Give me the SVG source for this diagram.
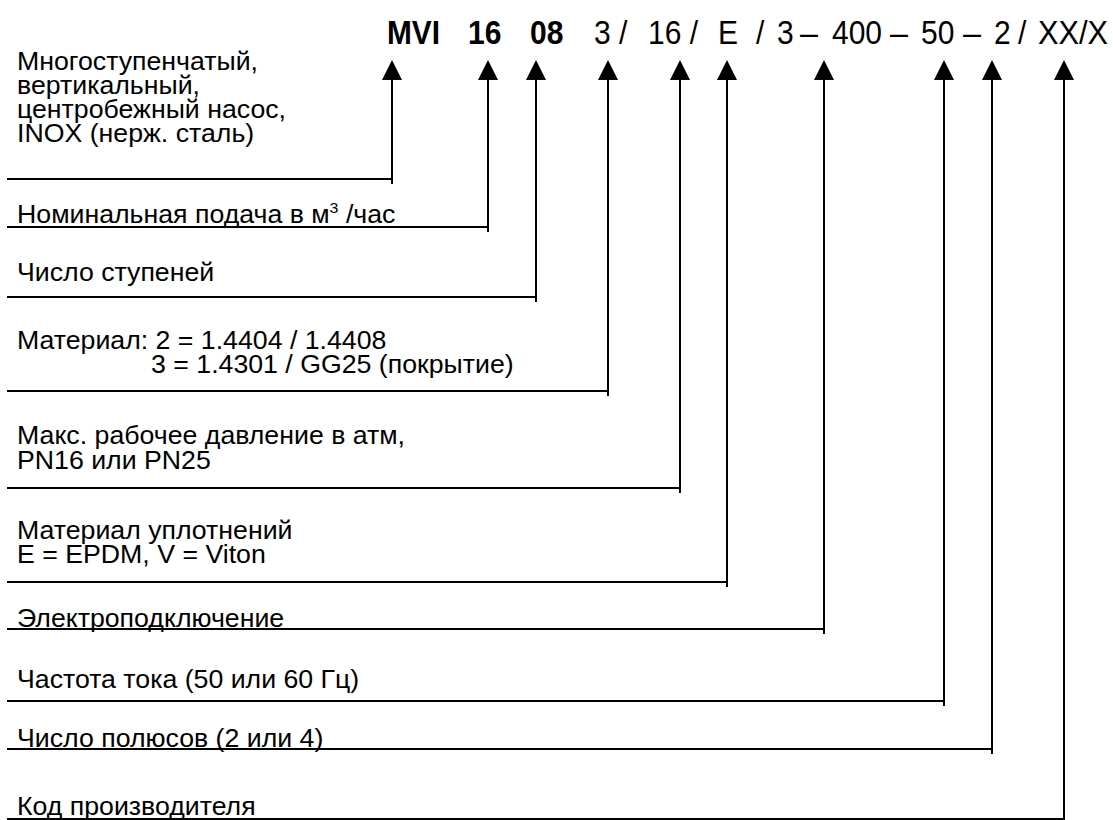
<svg xmlns="http://www.w3.org/2000/svg" width="1113" height="820" viewBox="0 0 1113 820">
<style>
  .lbl { font-family: "Liberation Sans", Arial, sans-serif; font-size: 25px; fill: #000; }
  .hd { font-family: "Liberation Sans", Arial, sans-serif; font-size: 33px; fill: #000; }
  .b { font-weight: bold; }
  .con { fill: none; stroke: #000; stroke-width: 2; marker-end: url(#arr); }
</style>
<defs>
  <marker id="arr" markerUnits="userSpaceOnUse" markerWidth="22" markerHeight="22" refX="0" refY="10" orient="auto" overflow="visible">
    <path d="M0,0 L20,10 L0,20 z" fill="#000"/>
  </marker>
</defs>
<rect width="1113" height="820" fill="#fff"/>

<g id="header">
  <text class="hd b" x="387" y="44" textLength="53" lengthAdjust="spacingAndGlyphs">MVI</text>
  <text class="hd b" x="468" y="44" textLength="33.4" lengthAdjust="spacingAndGlyphs">16</text>
  <text class="hd b" x="530" y="44" textLength="33.4" lengthAdjust="spacingAndGlyphs">08</text>
  <text class="hd" x="594" y="44" textLength="33.4" lengthAdjust="spacingAndGlyphs">3 /</text>
  <text class="hd" x="648" y="44" textLength="50" lengthAdjust="spacingAndGlyphs">16 /</text>
  <text class="hd" x="718" y="44" textLength="20" lengthAdjust="spacingAndGlyphs">E</text>
  <text class="hd" x="756" y="44" textLength="8.3" lengthAdjust="spacingAndGlyphs">/</text>
  <text class="hd" x="777" y="44" textLength="16.7" lengthAdjust="spacingAndGlyphs">3</text>
  <text class="hd" x="800" y="44" textLength="18" lengthAdjust="spacingAndGlyphs">–</text>
  <text class="hd" x="832" y="44" textLength="50" lengthAdjust="spacingAndGlyphs">400</text>
  <text class="hd" x="890" y="44" textLength="18" lengthAdjust="spacingAndGlyphs">–</text>
  <text class="hd" x="921" y="44" textLength="33.4" lengthAdjust="spacingAndGlyphs">50</text>
  <text class="hd" x="963" y="44" textLength="18" lengthAdjust="spacingAndGlyphs">–</text>
  <text class="hd" x="994" y="44" textLength="16.7" lengthAdjust="spacingAndGlyphs">2</text>
  <text class="hd" x="1018" y="44" textLength="8.3" lengthAdjust="spacingAndGlyphs">/</text>
  <text class="hd" x="1038" y="44" textLength="70" lengthAdjust="spacingAndGlyphs">XX/X</text>
</g>

<g id="connectors">
  <path class="con" d="M7,179 H392 M392,184 V80"/>
  <path class="con" d="M7,227 H488 M488,232 V80"/>
  <path class="con" d="M7,297 H536 M536,302 V80"/>
  <path class="con" d="M7,391 H608 M608,396 V80"/>
  <path class="con" d="M7,488 H680 M680,493 V80"/>
  <path class="con" d="M7,582 H727 M727,587 V80"/>
  <path class="con" d="M7,629 H824 M824,634 V80"/>
  <path class="con" d="M7,701 H944 M944,706 V80"/>
  <path class="con" d="M7,749 H992 M992,754 V80"/>
  <path class="con" d="M7,819 H1064 M1064,824 V80"/>
</g>

<g id="n1" transform="translate(17,0) scale(1.068,1)">
  <text class="lbl" x="0" y="70">Многоступенчатый,</text>
  <text class="lbl" x="0" y="94">вертикальный,</text>
  <text class="lbl" x="0" y="118">центробежный насос,</text>
  <text class="lbl" x="0" y="142">INOX (нерж. сталь)</text>
</g>
<g id="n2" transform="translate(17,0) scale(1.068,1)">
  <text class="lbl" x="0" y="223">Номинальная подача в м<tspan font-size="15" dy="-10">3</tspan><tspan dy="10"> /час</tspan></text>
</g>
<g id="n3" transform="translate(17,0) scale(1.068,1)">
  <text class="lbl" x="0" y="281">Число ступеней</text>
</g>
<g id="n4" transform="translate(17,0) scale(1.068,1)">
  <text class="lbl" x="0" y="349">Материал: 2 = 1.4404 / 1.4408</text>
  <text class="lbl" x="125.5" y="373">3 = 1.4301 / GG25 (покрытие)</text>
</g>
<g id="n5" transform="translate(17,0) scale(1.068,1)">
  <text class="lbl" x="0" y="444">Макс. рабочее давление в атм,</text>
  <text class="lbl" x="0" y="469">PN16 или PN25</text>
</g>
<g id="n6" transform="translate(17,0) scale(1.068,1)">
  <text class="lbl" x="0" y="539">Материал уплотнений</text>
  <text class="lbl" x="0" y="563">E = EPDM, V = Viton</text>
</g>
<g id="n7" transform="translate(17,0) scale(1.068,1)">
  <text class="lbl" x="0" y="627">Электроподключение</text>
</g>
<g id="n8" transform="translate(17,0) scale(1.068,1)">
  <text class="lbl" x="0" y="688">Частота тока (50 или 60 Гц)</text>
</g>
<g id="n9" transform="translate(17,0) scale(1.068,1)">
  <text class="lbl" x="0" y="747">Число полюсов (2 или 4)</text>
</g>
<g id="n10" transform="translate(17,0) scale(1.068,1)">
  <text class="lbl" x="0" y="815">Код производителя</text>
</g>
</svg>
